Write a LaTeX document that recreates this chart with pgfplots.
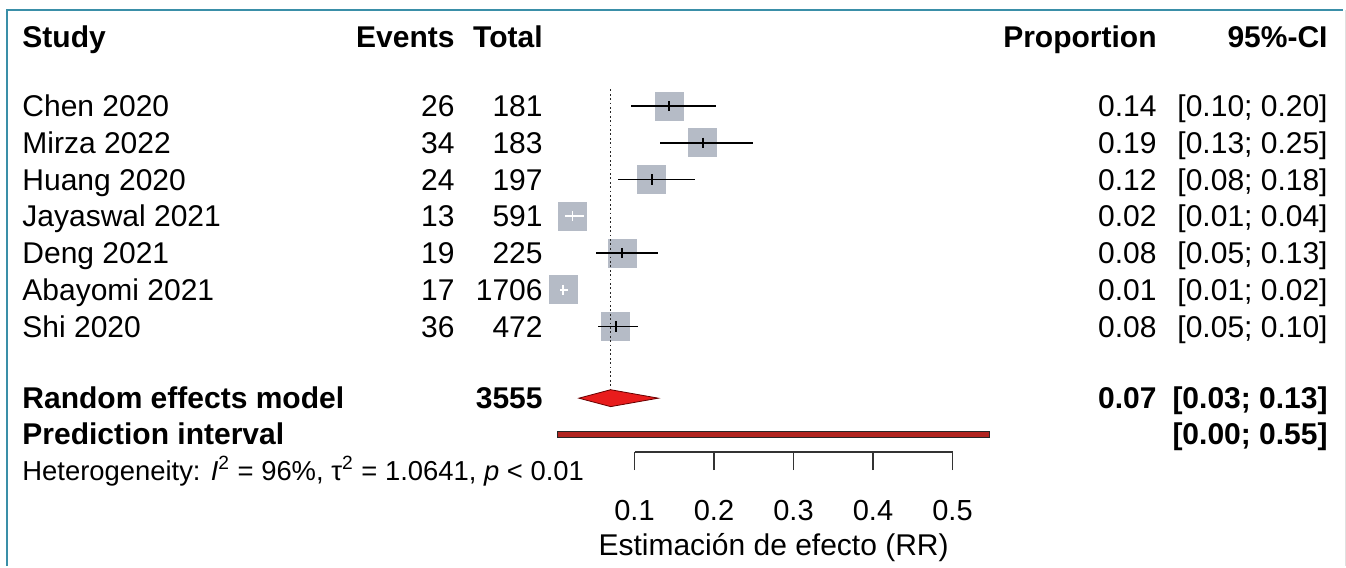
\documentclass[border=0pt]{standalone}
\usepackage{fontspec}
\setmainfont{Liberation Sans}
\usepackage{pgfplots}
\pgfplotsset{compat=1.18}
\usepackage{pgfplotstable}

\definecolor{sqgray}{RGB}{181,187,198}
\definecolor{frameteal}{RGB}{58,143,168}
\definecolor{diamred}{RGB}{232,28,28}
\definecolor{pired}{RGB}{176,36,32}

% study proportions with 95% confidence limits (y = row)
\pgfplotstableread{
y est lo hi
0 0.1436 0.096 0.203
1 0.1858 0.132 0.249
2 0.1218 0.079 0.176
4 0.0844 0.052 0.129
6 0.0763 0.054 0.104
}\studiesblack
\pgfplotstableread{
y est lo hi
3 0.0220 0.012 0.037
5 0.0100 0.006 0.016
}\studieswhite

\tikzset{txt/.style={font=\fontsize{15}{18}\selectfont, inner sep=0pt},
         btxt/.style={font=\fontsize{15}{18}\selectfont\bfseries, inner sep=0pt}}

\begin{document}
\begin{tikzpicture}
\begin{axis}[
  clip marker paths=true,
  scale only axis, width=673pt, height=283pt,
  xmin=-0.69811, xmax=0.99497,
  ymin=-2.8844, ymax=12.517,
  y dir=reverse,
  hide axis, clip=false,
]
% full canvas
\path (axis cs:-0.69811,-2.8844) rectangle (axis cs:0.99497,12.517);
% frame
\draw[frameteal, line width=1pt] (axis cs:-0.6893,12.517) -- (axis cs:-0.6893,-2.612) -- (axis cs:0.9912,-2.612);
\draw[black!12, line width=0.5pt] (axis cs:0.9937,-2.612) -- (axis cs:0.9937,12.517);

% study squares
\addplot[only marks, mark=square*, mark size=7pt, mark options={fill=sqgray, draw=sqgray}] table[x=est,y=y]{\studiesblack};
\addplot[only marks, mark=square*, mark size=7pt, mark options={fill=sqgray, draw=sqgray}] table[x=est,y=y]{\studieswhite};

% pooled estimate reference line
\addplot[black!85, line width=0.6pt, dash pattern=on 0.9pt off 1.3pt] coordinates {(0.07,-0.45) (0.07,7.8)};

% confidence intervals
\addplot[only marks, mark=|, mark size=2.6pt, mark options={draw=black, line width=0.85pt},
  error bars/.cd, x dir=both, x explicit, error mark=none,
  error bar style={line width=0.85pt, black}]
  table[x=est, y=y, x error plus expr=\thisrow{hi}-\thisrow{est}, x error minus expr=\thisrow{est}-\thisrow{lo}]{\studiesblack};
\addplot[only marks, mark=|, mark size=2.6pt, mark options={draw=white, line width=0.8pt},
  error bars/.cd, x dir=both, x explicit, error mark=none,
  error bar style={line width=0.8pt, white}]
  table[x=est, y=y, x error plus expr=\thisrow{hi}-\thisrow{est}, x error minus expr=\thisrow{est}-\thisrow{lo}]{\studieswhite};

% random effects diamond
\addplot[fill=diamred, draw=black!60!red, line width=0.4pt] coordinates {(0.03,7.95) (0.07,7.72) (0.13,7.95) (0.07,8.18)} -- cycle;
% prediction interval
\addplot[fill=pired, draw=black!85, line width=0.5pt] coordinates {(0.003,8.845) (0.546,8.845) (0.546,9.015) (0.003,9.015)} -- cycle;

% headings
\node[btxt, anchor=base west] at (axis cs:-0.6704,-1.6) {Study};
\node[btxt, anchor=base east] at (axis cs:-0.1258,-1.6) {Events};
\node[btxt, anchor=base east] at (axis cs:-0.0151,-1.6) {Total};
\node[btxt, anchor=base east] at (axis cs:0.7572,-1.6) {Proportion};
\node[btxt, anchor=base east] at (axis cs:0.9723,-1.6) {95\%-CI};

% study rows
\node[txt, anchor=base west] at (axis cs:-0.6704,0.29) {Chen 2020};
\node[txt, anchor=base west] at (axis cs:-0.6704,1.29) {Mirza 2022};
\node[txt, anchor=base west] at (axis cs:-0.6704,2.29) {Huang 2020};
\node[txt, anchor=base west] at (axis cs:-0.6704,3.29) {Jayaswal 2021};
\node[txt, anchor=base west] at (axis cs:-0.6704,4.29) {Deng 2021};
\node[txt, anchor=base west] at (axis cs:-0.6704,5.29) {Abayomi 2021};
\node[txt, anchor=base west] at (axis cs:-0.6704,6.29) {Shi 2020};

\node[txt, anchor=base east] at (axis cs:-0.1258,0.29) {26};
\node[txt, anchor=base east] at (axis cs:-0.1258,1.29) {34};
\node[txt, anchor=base east] at (axis cs:-0.1258,2.29) {24};
\node[txt, anchor=base east] at (axis cs:-0.1258,3.29) {13};
\node[txt, anchor=base east] at (axis cs:-0.1258,4.29) {19};
\node[txt, anchor=base east] at (axis cs:-0.1258,5.29) {17};
\node[txt, anchor=base east] at (axis cs:-0.1258,6.29) {36};

\node[txt, anchor=base east] at (axis cs:-0.0151,0.29) {181};
\node[txt, anchor=base east] at (axis cs:-0.0151,1.29) {183};
\node[txt, anchor=base east] at (axis cs:-0.0151,2.29) {197};
\node[txt, anchor=base east] at (axis cs:-0.0151,3.29) {591};
\node[txt, anchor=base east] at (axis cs:-0.0151,4.29) {225};
\node[txt, anchor=base east] at (axis cs:-0.0151,5.29) {1706};
\node[txt, anchor=base east] at (axis cs:-0.0151,6.29) {472};

\node[txt, anchor=base east] at (axis cs:0.7572,0.29) {0.14};
\node[txt, anchor=base east] at (axis cs:0.7572,1.29) {0.19};
\node[txt, anchor=base east] at (axis cs:0.7572,2.29) {0.12};
\node[txt, anchor=base east] at (axis cs:0.7572,3.29) {0.02};
\node[txt, anchor=base east] at (axis cs:0.7572,4.29) {0.08};
\node[txt, anchor=base east] at (axis cs:0.7572,5.29) {0.01};
\node[txt, anchor=base east] at (axis cs:0.7572,6.29) {0.08};

\node[txt, anchor=base east] at (axis cs:0.9723,0.29) {[0.10; 0.20]};
\node[txt, anchor=base east] at (axis cs:0.9723,1.29) {[0.13; 0.25]};
\node[txt, anchor=base east] at (axis cs:0.9723,2.29) {[0.08; 0.18]};
\node[txt, anchor=base east] at (axis cs:0.9723,3.29) {[0.01; 0.04]};
\node[txt, anchor=base east] at (axis cs:0.9723,4.29) {[0.05; 0.13]};
\node[txt, anchor=base east] at (axis cs:0.9723,5.29) {[0.01; 0.02]};
\node[txt, anchor=base east] at (axis cs:0.9723,6.29) {[0.05; 0.10]};

% summary rows
\node[btxt, anchor=base west] at (axis cs:-0.6704,8.24) {Random effects model};
\node[btxt, anchor=base east] at (axis cs:-0.0151,8.24) {3555};
\node[btxt, anchor=base east] at (axis cs:0.7572,8.24) {0.07};
\node[btxt, anchor=base east] at (axis cs:0.9723,8.24) {[0.03; 0.13]};
\node[btxt, anchor=base west] at (axis cs:-0.6704,9.22) {Prediction interval};
\node[btxt, anchor=base east] at (axis cs:0.9723,9.22) {[0.00; 0.55]};

\node[font=\fontsize{13.7}{16}\selectfont, inner sep=0pt, anchor=base west] at (axis cs:-0.6704,10.18)
  {Heterogeneity: \textit{I}\textsuperscript{2} = 96\%, τ\textsuperscript{2} = 1.0641, \textit{p} < 0.01};

\node[txt, anchor=base] at (axis cs:0.275,12.24) {Estimación de efecto (RR)};

\coordinate (xa) at (axis cs:0.1,9.415);
\end{axis}

\begin{axis}[
  at={(xa)}, anchor=south west,
  scale only axis, width=159pt, height=10pt,
  xmin=0.1, xmax=0.5, ymin=0, ymax=1,
  axis x line=bottom, axis y line=none,
  x axis line style={-, line width=0.75pt, black!80},
  xtick={0.1,0.2,0.3,0.4,0.5},
  tick align=outside, major tick length=9pt,
  xtick style={line width=0.75pt, black!80},
  xticklabel style={font=\fontsize{14.5}{16}\selectfont, yshift=-11.5pt},
  /pgf/number format/assume math mode=true,
  /pgf/number format/fixed, /pgf/number format/precision=1,
]
\end{axis}
\end{tikzpicture}
\end{document}
